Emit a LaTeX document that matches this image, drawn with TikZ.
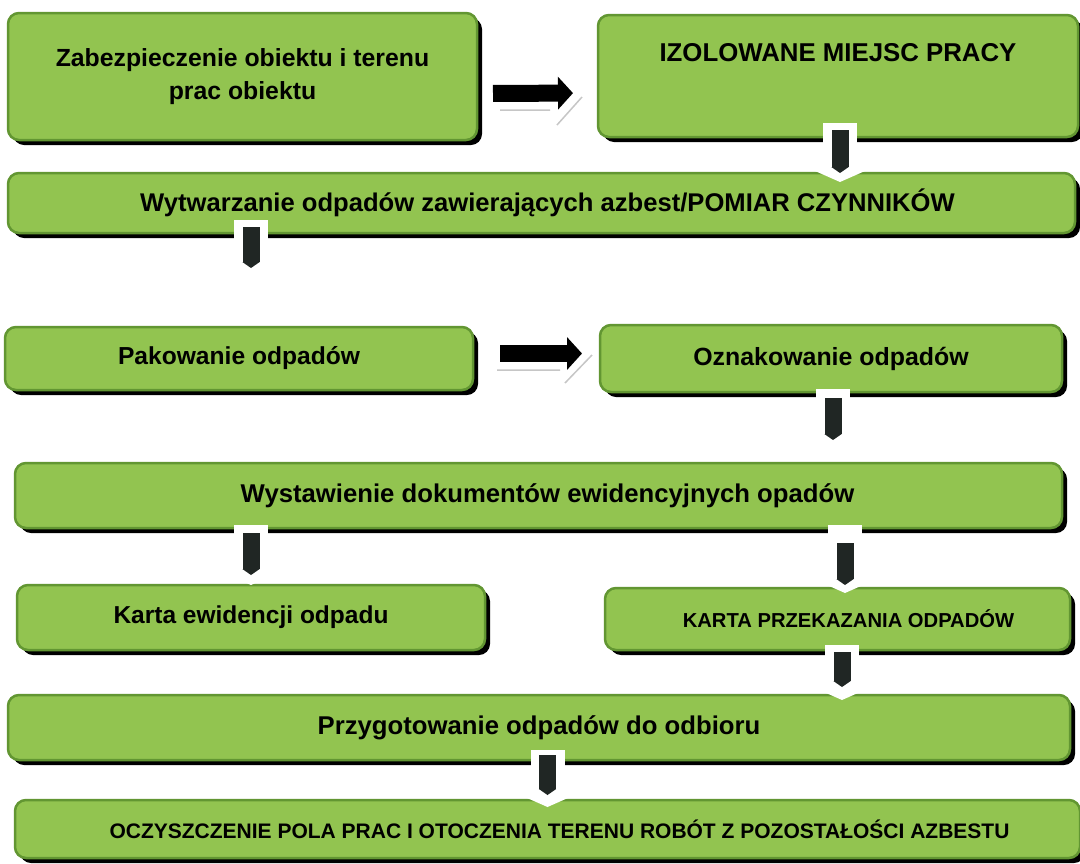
\documentclass[tikz,border=0pt]{standalone}
\usepackage{fontspec}
\setmainfont{Liberation Sans}
\usetikzlibrary{arrows.meta,shadows,calc}
\definecolor{boxfill}{RGB}{146,196,80}
\definecolor{boxdraw}{RGB}{98,150,50}
\definecolor{barcol}{RGB}{32,38,36}
\tikzset{
  box/.style={draw=boxdraw, line width=2.5pt, fill=boxfill, rounded corners=11pt,
    inner sep=0pt, outer sep=0pt, align=center,
    drop shadow={shadow xshift=5pt, shadow yshift=-5pt, opacity=1, fill=black}},
  fs/.style={font=\bfseries\fontsize{#1}{33}\selectfont},
  whitearr/.style={white, line width=34pt, -{Triangle[length=16pt, width=72pt]}},
  bararr/.style={barcol, line width=17pt, -{Triangle[length=6pt, width=0pt 1]}},
  rarr/.style={black, line width=17pt, -{Triangle[length=15pt, width=32pt]}},
  ghost/.style={gray!45, line width=1.5pt}
}
\newcommand\dnarr[6]{%
  \draw[whitearr, shorten <=#3, shorten >=#4] (#1) -- (#2);
  \draw[bararr, shorten <=#5, shorten >=#6] (#1) -- (#2);}
\begin{document}
\begin{tikzpicture}[x=1pt, y=-1pt]
\useasboundingbox[fill=white] (0,0) rectangle (1080,863);

\node[box, fs=24.8, minimum width=469pt, minimum height=127pt] (b1) at (242.5,76.5)
  {Zabezpieczenie obiektu i terenu\\prac obiektu};
\node[box, fs=25.8, text depth=48pt, minimum width=480pt, minimum height=122pt] (b2) at (838,76)
  {IZOLOWANE MIEJSC PRACY};
\node[box, fs=25.6, minimum width=1067pt, minimum height=60pt] (b3) at (541.5,203)
  {\hspace*{12pt}Wytwarzanie odpadów zawierających azbest/POMIAR CZYNNIKÓW};
\node[box, fs=24.6, minimum width=468pt, minimum height=63pt] (b4) at (239,358.5)
  {Pakowanie odpadów};
\node[box, fs=24.9, minimum width=462pt, minimum height=67pt] (b5) at (831,358.5)
  {Oznakowanie odpadów};
\node[box, fs=25.7, minimum width=1047pt, minimum height=65pt] (b6) at (538.5,495.5)
  {\hspace*{18pt}Wystawienie dokumentów ewidencyjnych opadów};
\node[box, fs=24.5, minimum width=468pt, minimum height=65pt] (b7) at (251,617.5)
  {Karta ewidencji odpadu};
\node[box, fs=20.2, minimum width=465pt, minimum height=62pt] (b8) at (837.5,619)
  {\hspace*{22pt}KARTA PRZEKAZANIA ODPADÓW};
\node[box, fs=25.7, minimum width=1062pt, minimum height=65pt] (b9) at (539,727.5)
  {Przygotowanie odpadów do odbioru};
\node[box, fs=21.0, minimum width=1065pt, minimum height=58pt] (b10) at (547.5,829)
  {\hspace*{24pt}OCZYSZCZENIE POLA PRAC I OTOCZENIA TERENU ROBÓT Z POZOSTAŁOŚCI AZBESTU};

% right arrows
\draw[rarr, shorten <=16pt, shorten >=25pt] ($(b1.east)+(0,17)$) -- ($(b2.west)+(0,17)$);
\draw[ghost] (500,110) -- (550,110) (557,125) -- (582,97);
\draw[rarr, shorten <=27pt, shorten >=18pt] ($(b4.east)+(0,-5)$) -- ($(b5.west)+(0,-5)$);
\draw[ghost] (497,370) -- (560,370) (565,383) -- (592,355);

% down arrows
\coordinate (e3) at (251,268);
\coordinate (a1) at (840,0);
\coordinate (a3) at (833,0);
\coordinate (a5) at (845,0);
\coordinate (a6) at (842,0);
\dnarr{b2.south -| a1}{b3.north -| a1}{-14pt}{-9pt}{-7pt}{0pt}
\dnarr{b3.south -| e3}{e3}{-13pt}{-9pt}{-6pt}{0pt}
\dnarr{b5.south -| a3}{b6.north -| a3}{-3pt}{15pt}{6pt}{23pt}
\dnarr{b6.south -| b7.north}{b7.north}{-3pt}{0pt}{5pt}{10pt}
\dnarr{b6.south -| a5}{b8.north -| a5}{-3pt}{-5pt}{15pt}{3pt}
\dnarr{b8.south -| a6}{b9.north -| a6}{-5pt}{-5pt}{2pt}{8pt}
\dnarr{b9.south -| b10.north}{b10.north}{-10pt}{-7pt}{-5pt}{5pt}
\end{tikzpicture}
\end{document}
